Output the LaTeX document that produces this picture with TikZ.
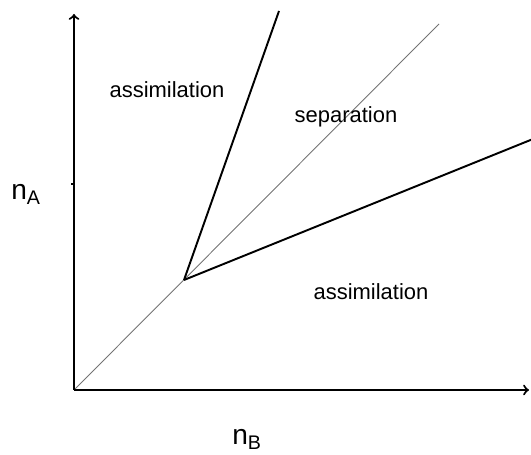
\documentclass[tikz,border=0pt]{standalone}
\usepackage{fontspec}
\setmainfont{Liberation Sans}
\tikzset{
  axis/.style={line width=1.2pt, ->},
  border/.style={line width=1.1pt},
  diag/.style={line width=0.5pt, black!55},
  region/.style={font=\fontsize{12.5}{14}\selectfont, inner sep=0pt},
  axlabel/.style={font=\fontsize{16}{18}\selectfont, inner sep=0pt, anchor=base west}
}
\begin{document}
\begin{tikzpicture}[x=0.02cm,y=-0.02cm]
\useasboundingbox (0,0) rectangle (531,455);
\coordinate (o) at (74,390);
\coordinate (xend) at (529,390);
\coordinate (yend) at (74,14);
\coordinate (tick) at (71,184);
\coordinate (tickb) at (74,184);
\coordinate (k) at (184,280);
\coordinate (steep) at (279,11);
\coordinate (flat) at (533,139);
\coordinate (diagend) at (439,24);
\draw[diag] (o) -- (diagend);
\draw[axis] (o) -- (xend);
\draw[axis] (o) -- (yend);
\draw[line width=1pt] (tick) -- (tickb);
\draw[border] (k) -- (steep);
\draw[border] (k) -- (flat);
\node[region] (asa) at (167,90) {assimilation};
\node[region] (sep) at (346,117) {separation};
\node[region] (asb) at (371,292) {assimilation};
\node[axlabel] (na) at (11,200) {n\textsubscript{A}};
\node[axlabel] (nb) at (232,445) {n\textsubscript{B}};
\end{tikzpicture}
\end{document}
